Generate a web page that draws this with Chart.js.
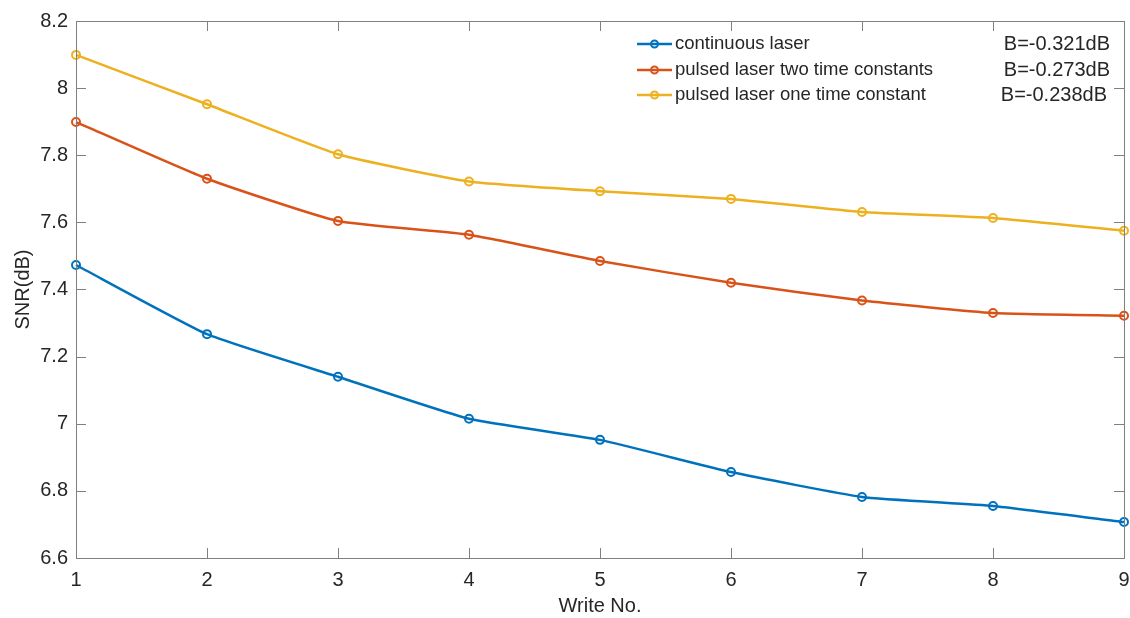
<!DOCTYPE html>
<html>
<head>
<meta charset="utf-8">
<script src="https://cdn.jsdelivr.net/npm/chart.js@4"></script>
<style>
  html, body { margin: 0; padding: 0; background: #fff; }
  #wrap { width: 1130px; height: 618px; }
</style>
</head>
<body>
<div id="wrap"><canvas id="snr-chart" width="1130" height="618"></canvas></div>
<script>
// data
const writeNo = ['1', '2', '3', '4', '5', '6', '7', '8', '9'];
const continuousLaser = [7.473, 7.267, 7.140, 7.015, 6.952, 6.856, 6.782, 6.755, 6.707];
const pulsedTwoConst = [7.899, 7.730, 7.604, 7.563, 7.485, 7.420, 7.367, 7.330, 7.322];
const pulsedOneConst = [8.099, 7.952, 7.803, 7.722, 7.693, 7.670, 7.631, 7.613, 7.575];
const seriesNames = ['continuous laser', 'pulsed laser two time constants', 'pulsed laser one time constant'];
const slopeLabels = ['B=-0.321dB', 'B=-0.273dB', 'B=-0.238dB'];
const yTicks = [6.6, 6.8, 7.0, 7.2, 7.4, 7.6, 7.8, 8.0, 8.2];
const colors = ['#0072BD', '#D95319', '#EDB120'];

const fontName = '"Liberation Sans", Arial, sans-serif';
const textColor = '#262626';
const axisColor = '#808080';

function makeSet(i, values) {
    return {
        label: seriesNames[i],
        data: values,
        borderColor: colors[i],
        backgroundColor: colors[i],
        borderWidth: 2.5,
        pointRadius: 4,
        pointBorderWidth: 2,
        pointBackgroundColor: 'rgba(0,0,0,0)',
        pointBorderColor: colors[i],
        tension: 0.15,
        clip: false
    };
}

// box around plot area + inward ticks on all four sides, like matlab
const boxPlugin = {
    id: 'boxPlugin',
    afterDraw(chart) {
        const ctx = chart.ctx;
        const a = chart.chartArea;
        const xs = chart.scales.x, ys = chart.scales.y;
        const tl = 10;
        ctx.save();
        ctx.strokeStyle = axisColor;
        ctx.lineWidth = 1;
        ctx.strokeRect(a.left + 0.5, a.top + 0.5, a.right - a.left, a.bottom - a.top);
        ctx.beginPath();
        for (let i = 0; i < writeNo.length; i++) {
            const x = Math.round(xs.getPixelForValue(i)) + 0.5;
            ctx.moveTo(x, a.bottom); ctx.lineTo(x, a.bottom - tl);
            ctx.moveTo(x, a.top); ctx.lineTo(x, a.top + tl);
        }
        yTicks.forEach(v => {
            const y = Math.round(ys.getPixelForValue(v)) + 0.5;
            ctx.moveTo(a.left, y); ctx.lineTo(a.left + tl, y);
            ctx.moveTo(a.right, y); ctx.lineTo(a.right - tl, y);
        });
        ctx.stroke();

        // legend (no frame) and slope annotations
        ctx.textBaseline = 'middle';
        const rows = [44, 70, 95];
        for (let i = 0; i < seriesNames.length; i++) {
            const y = rows[i];
            ctx.strokeStyle = colors[i];
            ctx.lineWidth = 2.5;
            ctx.beginPath();
            ctx.moveTo(637, y); ctx.lineTo(672, y);
            ctx.stroke();
            ctx.lineWidth = 2;
            ctx.beginPath();
            ctx.arc(654.5, y, 3.5, 0, Math.PI * 2);
            ctx.stroke();
            ctx.fillStyle = textColor;
            ctx.font = '18.5px ' + fontName;
            ctx.textAlign = 'left';
            ctx.fillText(seriesNames[i], 675, y);
            ctx.font = '20px ' + fontName;
            ctx.textAlign = 'right';
            ctx.fillText(slopeLabels[i], i === 2 ? 1107 : 1110, y);
        }
        ctx.restore();
    }
};

const ctx = document.getElementById('snr-chart').getContext('2d');
const snrChart = new Chart(ctx, {
    type: 'line',
    data: {
        labels: writeNo,
        datasets: [
            makeSet(0, continuousLaser),
            makeSet(1, pulsedTwoConst),
            makeSet(2, pulsedOneConst)
        ]
    },
    options: {
        responsive: false,
        animation: false,
        layout: { padding: { top: 21, right: 6, left: 0, bottom: 0 } },
        plugins: {
            legend: { display: false },
            tooltip: { enabled: false }
        },
        scales: {
            x: {
                type: 'category',
                offset: false,
                grid: { display: false, drawTicks: false },
                border: { display: false },
                ticks: {
                    color: textColor,
                    font: { family: fontName, size: 20 },
                    padding: 10,
                    maxRotation: 0
                },
                title: {
                    display: true,
                    text: 'Write No.',
                    color: textColor,
                    font: { family: fontName, size: 20 },
                    padding: { top: 3, bottom: 0 }
                },
                afterFit(scale) {
                    scale.height = 60;
                    scale.paddingLeft = 0;
                    scale.paddingRight = 0;
                }
            },
            y: {
                min: 6.6,
                max: 8.2,
                grid: { display: false, drawTicks: false },
                border: { display: false },
                afterBuildTicks(scale) {
                    scale.ticks = yTicks.map(v => ({ value: v }));
                },
                ticks: {
                    color: textColor,
                    font: { family: fontName, size: 20 },
                    padding: 8,
                    callback: v => String(Number(v.toFixed(1)))
                },
                title: {
                    display: true,
                    text: 'SNR(dB)',
                    color: textColor,
                    font: { family: fontName, size: 20 },
                    padding: { top: 11, bottom: 0 }
                },
                afterFit(scale) { scale.width = 76; }
            }
        }
    },
    plugins: [boxPlugin]
});
</script>
</body>
</html>
